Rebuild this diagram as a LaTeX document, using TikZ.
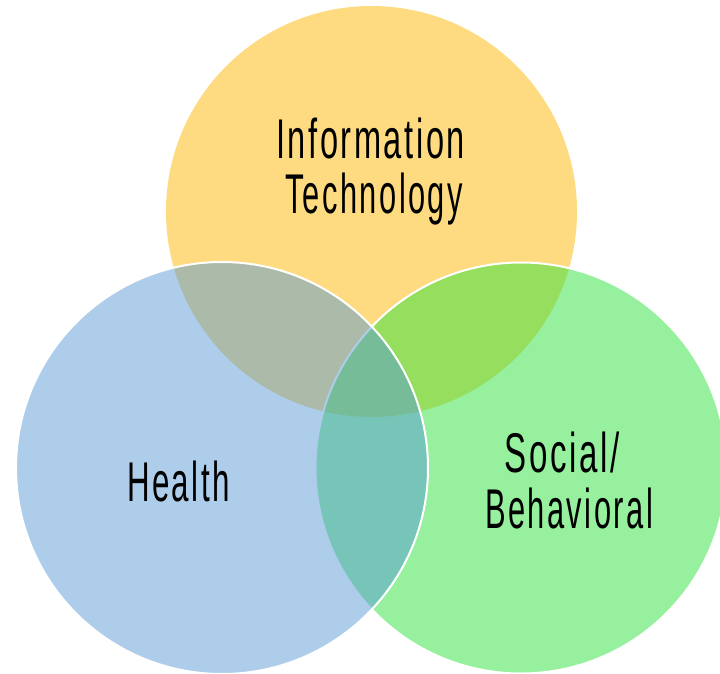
\documentclass[tikz,border=0pt]{standalone}
\usepackage{fontspec}
\setmainfont{Liberation Sans}[LetterSpace=8]
\usepackage{graphicx}
\definecolor{yel}{RGB}{253,183,1}
\definecolor{grn}{RGB}{45,225,61}
\definecolor{blu}{RGB}{91,155,213}
\tikzset{
  venn/.style={circle, inner sep=0pt, outer sep=0pt, fill opacity=0.5},
  lbl/.style={anchor=base, inner sep=0pt, text=black, font=\fontsize{56}{56}\selectfont}
}
\newcommand{\fitw}[2]{\resizebox{#1pt}{\height}{#2}}
\begin{document}
\begin{tikzpicture}[x=1pt,y=-1pt]
\useasboundingbox (0,0) rectangle (720,674);
\node[venn, fill=yel, minimum size=411pt] (it) at (371.5,211.5) {};
\node[venn, fill=grn, draw=white, line width=2pt, minimum size=411pt] (sb) at (521,468) {};
\node[venn, fill=blu, draw=white, line width=2pt, minimum size=412pt] (he) at (222,468) {};
\node[lbl] (it1) at (370.5,158) {\fitw{189}{Information}};
\node[lbl] (it2) at (374,213) {\fitw{178}{Technology}};
\node[lbl] (he1) at (178.5,501) {\fitw{103}{Health}};
\node[lbl] (sb1) at (562,472) {\fitw{115}{Social/}};
\node[lbl] (sb2) at (569,528) {\fitw{168}{Behavioral}};
\end{tikzpicture}
\end{document}
